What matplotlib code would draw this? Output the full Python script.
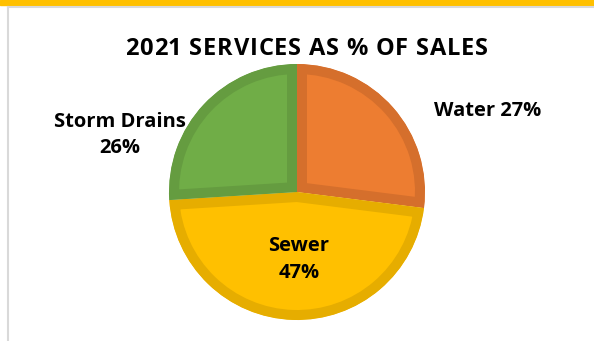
import matplotlib
matplotlib.use('Agg')
import matplotlib.pyplot as plt
from matplotlib.patches import Rectangle
from matplotlib.lines import Line2D

plt.rcParams['font.family'] = ['Open Sans', 'DejaVu Sans']

title = '2021 SERVICES AS % OF SALES'
labels = ['Water', 'Sewer', 'Storm Drains']
shares = [27, 47, 26]
fills = ['#ED7D31', '#FFC000', '#70AD47']
borders = ['#D56F2C', '#E6AD00', '#659C40']

W, H = 594, 341
fig = plt.figure(figsize=(W / 100, H / 100), dpi=100)
ax = fig.add_axes([0, 0, 1, 1])

# frame decorations
fig.patches.append(Rectangle((0, 1 - 4.5 / H), 1, 4.5 / H, transform=fig.transFigure,
                             color='#FFC000', zorder=0))
fig.lines.append(Line2D([7.5 / W, 1], [1 - 7 / H, 1 - 7 / H], transform=fig.transFigure,
                        color='#D9D9D9', lw=1.5))
fig.lines.append(Line2D([7.5 / W, 7.5 / W], [0, 1 - 7 / H], transform=fig.transFigure,
                        color='#D9D9D9', lw=1.5))

wedges, _ = ax.pie(shares, colors=fills, startangle=90, counterclock=False,
                   center=(297, H - 192), radius=128, frame=True)
for w, c in zip(wedges, borders):
  w.set_edgecolor(c)
  w.set_linewidth(14.4)
  w.set_joinstyle('miter')
  w.set_clip_on(True)
  w.set_clip_path(w)
ax.set_xlim(0, W)
ax.set_ylim(0, H)
ax.set_aspect('equal')
ax.axis('off')


def spaced_text(x0, y, s, total_w, **kw):
  # letter-spaced title, axes units are pixels here
  r = fig.canvas.get_renderer()
  def ink(t):
    a = ax.text(0, 0, t, **kw)
    w = a.get_window_extent(r).width
    a.remove()
    return w
  base = ink('I')
  adv = [ink(ch + 'I') - base for ch in s]
  adv[-1] = ink(s[-1])
  gap = (total_w - sum(adv)) / (len(s) - 1)
  x = x0
  for ch, a in zip(s, adv):
    if ch != ' ':
      ax.text(x, y, ch, ha='left', va='baseline', **kw)
    x += a + gap


spaced_text(125, H - 55, title, 363, fontsize=17, fontweight='bold')
lab = dict(ha='center', va='center', fontsize=14.5, fontweight='bold', linespacing=1.43)
ax.text(487.5, H - 111.5, '%s %d%%' % (labels[0], shares[0]), **lab)
ax.text(299, H - 259.5, '%s\n%d%%' % (labels[1], shares[1]), **lab)
ax.text(120, H - 135, '%s\n%d%%' % (labels[2], shares[2]), **lab)

fig.savefig('out.png', dpi=100)
